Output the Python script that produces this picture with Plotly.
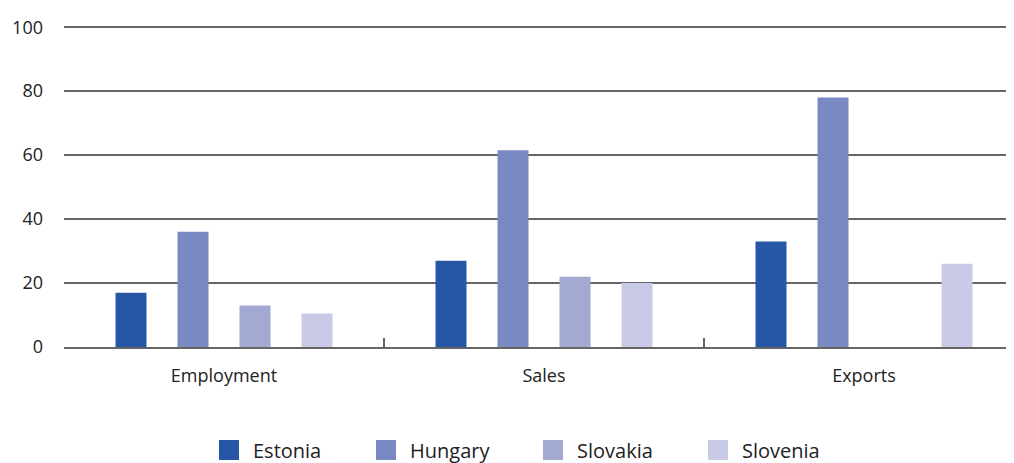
import plotly.graph_objects as go

categories = ["Employment", "Sales", "Exports"]
countries = ["Estonia", "Hungary", "Slovakia", "Slovenia"]
estonia = [17, 27, 33]
hungary = [36, 61.5, 78]
slovakia = [13, 22, None]
slovenia = [10.5, 20, 26]
series = [estonia, hungary, slovakia, slovenia]
colors = ["#2657a6", "#7a89c2", "#a3a9d3", "#c9cbe6"]
y_ticks = [0, 20, 40, 60, 80, 100]
legend_left_px = [197, 354, 521, 686]  # left edge of each legend block

FONT = "Open Sans"
W, H = 1006, 455  # page body has an 8px margin
fig = go.Figure()
legend_layout = {}
for i, (name, vals, col) in enumerate(zip(countries, series, colors)):
    lg = "legend" if i == 0 else f"legend{i + 1}"
    fig.add_trace(go.Bar(x=categories, y=vals, name=name, marker_color=col,
                         marker_line_width=0, showlegend=False))
    fig.add_trace(go.Scatter(x=[categories[0]], y=[None], mode="markers", name=name,
                             legend=lg,
                             marker=dict(symbol="square", size=16, color=col,
                                         line=dict(width=4, color=col))))
    legend_layout[lg] = dict(orientation="h", x=legend_left_px[i] / W, xanchor="left",
                             y=13 / H, yanchor="middle", yref="container",
                             xref="container", itemwidth=38,
                             font=dict(size=20, color="#222"), bgcolor="rgba(0,0,0,0)")

fig.update_layout(
    width=W, height=H,
    margin=dict(l=56, r=0, t=16, b=116),
    paper_bgcolor="white", plot_bgcolor="white",
    barmode="group", bargap=0.225, bargroupgap=0.5,
    font=dict(family=FONT, size=18, color="#222"),
    xaxis=dict(type="category", range=[-0.5, 2.46875], showline=True, linecolor="#666",
               linewidth=1.5, tickson="boundaries", ticks="inside", ticklen=9,
               tickcolor="#666", tickwidth=1.5, showgrid=False, ticklabelstandoff=12,
               tickfont=dict(size=18)),
    yaxis=dict(range=[0, 101], tickvals=y_ticks, showgrid=True, gridcolor="#666",
               gridwidth=1.5, zeroline=False, showline=False, ticks="",
               ticklabelstandoff=20, tickfont=dict(size=18)),
    **legend_layout,
)
fig.write_html("out.html")
